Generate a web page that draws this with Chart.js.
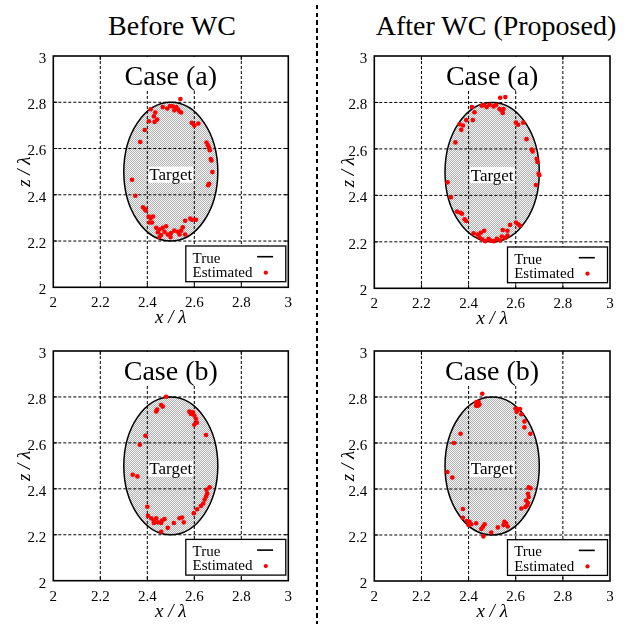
<!DOCTYPE html>
<html>
<head>
<meta charset="utf-8">
<script src="https://cdn.jsdelivr.net/npm/chart.js@4/dist/chart.umd.min.js"></script>
<style>
body { margin: 0; background: #fff; width: 629px; height: 624px; position: relative; overflow: hidden; }
canvas { position: absolute; }
.veerg { position: absolute; top: 9.5px; width: 320px; font: 28px "Liberation Serif", serif; line-height: 32px; text-align: center; color: #000; }
#eraldaja { position: absolute; left: 316px; top: 5px; width: 2px; height: 619px; z-index: 2;
  background: repeating-linear-gradient(to bottom, #000 0 4.5px, transparent 4.5px 7.7px); }
</style>
</head>
<body>
<div class="veerg" id="veerg1" style="left:12px"></div>
<div class="veerg" id="veerg2" style="left:336px"></div>
<div id="eraldaja"></div>
<canvas id="p1" width="315" height="295" style="left:0;top:40px"></canvas>
<canvas id="p2" width="314" height="295" style="left:315px;top:40px"></canvas>
<canvas id="p3" width="315" height="289" style="left:0;top:335px"></canvas>
<canvas id="p4" width="314" height="289" style="left:315px;top:335px"></canvas>
<script>
// Veergude ja paneelide pealkirjad
const veeruPealkirjad = ['Before WC', 'After WC (Proposed)'];
const juhtumid = ['Case (a)', 'Case (b)'];
const legendiSildid = ['True', 'Estimated'];
const sihtSilt = 'Target';

// Telgede jaotised (mõlemal teljel samad)
const tickVaartused = [2, 2.2, 2.4, 2.6, 2.8, 3];
const tickSildid = ['2', '2.2', '2.4', '2.6', '2.8', '3'];

// Tõeline sihtmärk: ellips (kese ja pooltelg x ja z suunas)
const ellipsiKese = [2.5, 2.5];
const ellipsiPooltelg = [0.2, 0.3];
const sildiKoht = [2.5, 2.487];

// Hinnangulised punktid: enne WC, juhtum (a)
const enneAx = [2.541, 2.497, 2.508, 2.523, 2.530, 2.537, 2.544, 2.515, 2.485, 2.466,
  2.414, 2.434, 2.428, 2.442, 2.431, 2.407, 2.389, 2.370, 2.589, 2.600,
  2.617, 2.652, 2.658, 2.662, 2.666, 2.670, 2.673, 2.677, 2.663, 2.659,
  2.335, 2.349, 2.382, 2.389, 2.393, 2.406, 2.414, 2.424, 2.410, 2.420,
  2.438, 2.452, 2.466, 2.480, 2.445, 2.459, 2.473, 2.487, 2.501, 2.515,
  2.530, 2.544, 2.551, 2.537, 2.561, 2.499, 2.452, 2.561, 2.583, 2.590, 2.607];
const enneAz = [2.814, 2.784, 2.782, 2.779, 2.770, 2.760, 2.756, 2.765, 2.773, 2.779,
  2.770, 2.756, 2.739, 2.725, 2.715, 2.718, 2.680, 2.628, 2.711, 2.699,
  2.708, 2.626, 2.614, 2.604, 2.593, 2.555, 2.548, 2.498, 2.448, 2.441,
  2.465, 2.396, 2.346, 2.339, 2.332, 2.306, 2.299, 2.306, 2.280, 2.280,
  2.257, 2.250, 2.257, 2.264, 2.238, 2.226, 2.240, 2.228, 2.235, 2.245,
  2.240, 2.245, 2.259, 2.228, 2.228, 2.217, 2.217, 2.288, 2.297, 2.292, 2.292];

// Hinnangulised punktid: pärast WC, juhtum (a)
const parastAx = [2.534, 2.556, 2.414, 2.425, 2.456, 2.466, 2.489, 2.506, 2.517, 2.531,
  2.539, 2.548, 2.545, 2.477, 2.390, 2.418, 2.362, 2.376, 2.369, 2.344,
  2.311, 2.325, 2.351, 2.365, 2.372, 2.383, 2.390, 2.601, 2.610, 2.632,
  2.646, 2.668, 2.672, 2.689, 2.692, 2.697, 2.700, 2.686, 2.576, 2.601,
  2.611, 2.618, 2.565, 2.545, 2.421, 2.438, 2.452, 2.466, 2.446, 2.458,
  2.470, 2.485, 2.494, 2.508, 2.520, 2.534, 2.541, 2.555, 2.565];
const parastAz = [2.820, 2.823, 2.780, 2.758, 2.786, 2.789, 2.790, 2.783, 2.789, 2.772,
  2.766, 2.772, 2.755, 2.780, 2.724, 2.724, 2.706, 2.701, 2.682, 2.628,
  2.456, 2.392, 2.330, 2.325, 2.321, 2.297, 2.290, 2.713, 2.704, 2.713,
  2.642, 2.597, 2.589, 2.558, 2.544, 2.494, 2.487, 2.445, 2.273, 2.283,
  2.276, 2.269, 2.248, 2.251, 2.237, 2.231, 2.239, 2.248, 2.220, 2.211,
  2.203, 2.213, 2.206, 2.203, 2.213, 2.206, 2.223, 2.217, 2.227];

// Hinnangulised punktid: enne WC, juhtum (b)
const enneBx = [2.480, 2.459, 2.466, 2.442, 2.438, 2.579, 2.586, 2.594, 2.600, 2.607,
  2.611, 2.600, 2.650, 2.392, 2.368, 2.338, 2.358, 2.665, 2.652, 2.655,
  2.650, 2.644, 2.638, 2.628, 2.612, 2.598, 2.400, 2.403, 2.417, 2.427,
  2.438, 2.445, 2.462, 2.473, 2.459, 2.428, 2.487, 2.513, 2.537, 2.548,
  2.555, 2.459];
const enneBz = [2.801, 2.765, 2.758, 2.745, 2.737, 2.736, 2.726, 2.733, 2.719, 2.705,
  2.688, 2.679, 2.634, 2.631, 2.592, 2.461, 2.454, 2.407, 2.396, 2.379,
  2.367, 2.353, 2.336, 2.325, 2.311, 2.294, 2.322, 2.282, 2.272, 2.262,
  2.272, 2.254, 2.262, 2.268, 2.251, 2.251, 2.230, 2.251, 2.272, 2.275,
  2.254, 2.213];

// Hinnangulised punktid: pärast WC, juhtum (b)
const parastBx = [2.458, 2.432, 2.442, 2.446, 2.432, 2.439, 2.599, 2.608, 2.618, 2.604,
  2.624, 2.637, 2.637, 2.662, 2.366, 2.338, 2.310, 2.331, 2.655, 2.663,
  2.652, 2.655, 2.644, 2.652, 2.641, 2.648, 2.624, 2.376, 2.376, 2.393,
  2.404, 2.400, 2.411, 2.432, 2.454, 2.461, 2.468, 2.496, 2.524, 2.552,
  2.559, 2.566, 2.548, 2.463];
const parastBz = [2.814, 2.776, 2.779, 2.767, 2.762, 2.762, 2.750, 2.743, 2.748, 2.736,
  2.725, 2.694, 2.668, 2.640, 2.640, 2.600, 2.474, 2.450, 2.407, 2.403,
  2.379, 2.365, 2.350, 2.339, 2.322, 2.328, 2.315, 2.313, 2.275, 2.261,
  2.257, 2.243, 2.247, 2.251, 2.226, 2.236, 2.247, 2.211, 2.233, 2.257,
  2.250, 2.237, 2.243, 2.194];

document.getElementById('veerg1').textContent = veeruPealkirjad[0];
document.getElementById('veerg2').textContent = veeruPealkirjad[1];

Chart.defaults.font.family = '"Liberation Serif", serif';
Chart.defaults.color = '#000';

// Paneelid: lõuend, andmed ja joonisala asukoht lõuendil
const paneelid = [
  { id: 'p1', x: enneAx, z: enneAz, pealkiri: juhtumid[0], ala: { l: 53.3, t: 13.3, r: 288.3, b: 247.3 }, yPealkiri: 25 },
  { id: 'p2', x: parastAx, z: parastAz, pealkiri: juhtumid[0], ala: { l: 59.3, t: 13.3, r: 295, b: 248.3 }, yPealkiri: 34 },
  { id: 'p3', x: enneBx, z: enneBz, pealkiri: juhtumid[1], ala: { l: 53.3, t: 11, r: 288.3, b: 245.7 }, yPealkiri: 25 },
  { id: 'p4', x: parastBx, z: parastBz, pealkiri: juhtumid[1], ala: { l: 59.3, t: 11, r: 295, b: 246 }, yPealkiri: 34 }
];

// Hall täpiline muster ellipsi täiteks
function looMuster(ctx) {
    const m = document.createElement('canvas');
    m.width = 2; m.height = 2;
    const c = m.getContext('2d');
    c.fillStyle = '#f3f3f3';
    c.fillRect(0, 0, 2, 2);
    c.fillStyle = '#b2b2b2';
    c.fillRect(0, 0, 1, 1);
    c.fillRect(1, 1, 1, 1);
    return ctx.createPattern(m, 'repeat');
}

// Ellipsi tee skaalade kaudu
function ellipsiTee(chart) {
    const { ctx, scales: { x, y } } = chart;
    const cx = x.getPixelForValue(ellipsiKese[0]);
    const cy = y.getPixelForValue(ellipsiKese[1]);
    const rx = x.getPixelForValue(ellipsiKese[0] + ellipsiPooltelg[0]) - cx;
    const ry = cy - y.getPixelForValue(ellipsiKese[1] + ellipsiPooltelg[1]);
    ctx.beginPath();
    ctx.ellipse(cx, cy, rx, ry, 0, 0, Math.PI * 2);
}

// Plugin, mis joonistab ellipsi, ruudustiku, sildid, raami ja legendi
const paneelPlugin = {
    id: 'paneel',
    beforeDatasetsDraw(chart, args, opts) {
        const { ctx, chartArea: a, scales: { x, y } } = chart;
        ctx.save();
        // Ellipsi täide
        ellipsiTee(chart);
        ctx.fillStyle = looMuster(ctx);
        ctx.fill();
        // Katkendlik ruudustik
        ctx.strokeStyle = '#000';
        ctx.lineWidth = 1;
        ctx.setLineDash([3, 2]);
        tickVaartused.slice(1, -1).forEach(v => {
            const px = x.getPixelForValue(v);
            const py = y.getPixelForValue(v);
            ctx.beginPath();
            ctx.moveTo(px, a.top); ctx.lineTo(px, a.bottom);
            ctx.moveTo(a.left, py); ctx.lineTo(a.right, py);
            ctx.stroke();
        });
        ctx.setLineDash([]);
        // Sisemised jaotise kriipsud
        tickVaartused.slice(1, -1).forEach(v => {
            const px = x.getPixelForValue(v);
            const py = y.getPixelForValue(v);
            ctx.beginPath();
            ctx.moveTo(px, a.bottom); ctx.lineTo(px, a.bottom - 4);
            ctx.moveTo(px, a.top); ctx.lineTo(px, a.top + 4);
            ctx.moveTo(a.left, py); ctx.lineTo(a.left + 4, py);
            ctx.moveTo(a.right, py); ctx.lineTo(a.right - 4, py);
            ctx.stroke();
        });
        // Ellipsi piirjoon
        ellipsiTee(chart);
        ctx.lineWidth = 1.5;
        ctx.stroke();
        // Paneeli pealkiri valgel taustal
        const kx = (a.left + a.right) / 2;
        ctx.font = '28px "Liberation Serif"';
        const pw = ctx.measureText(opts.pealkiri).width;
        ctx.fillStyle = '#fff';
        ctx.fillRect(kx - pw / 2 - 4, a.top + 1, pw + 8, 33);
        ctx.fillStyle = '#000';
        ctx.textAlign = 'center';
        ctx.textBaseline = 'alphabetic';
        ctx.fillText(opts.pealkiri, kx, a.top + 28.5);
        // Sihtmärgi silt
        const sx = x.getPixelForValue(sildiKoht[0]);
        const sy = y.getPixelForValue(sildiKoht[1]);
        ctx.font = '17px "Liberation Serif"';
        const sw = ctx.measureText(sihtSilt).width;
        ctx.fillStyle = '#fff';
        ctx.fillRect(sx - sw / 2 - 1, sy - 8, sw + 2, 16);
        ctx.fillStyle = '#000';
        ctx.textBaseline = 'middle';
        ctx.fillText(sihtSilt, sx, sy + 1);
        ctx.restore();
    },
    afterDatasetsDraw(chart) {
        const { ctx, chartArea: a } = chart;
        ctx.save();
        // Raam
        ctx.strokeStyle = '#000';
        ctx.lineWidth = 1.6;
        ctx.strokeRect(a.left, a.top, a.right - a.left, a.bottom - a.top);
        // Legend paremas alanurgas
        const lw = 100, lh = 35.7;
        const lx = a.right - 2.5 - lw;
        const ly = a.bottom - 5.6 - lh;
        ctx.fillStyle = '#fff';
        ctx.fillRect(lx, ly, lw, lh);
        ctx.lineWidth = 1.3;
        ctx.strokeRect(lx, ly, lw, lh);
        ctx.font = '15px "Liberation Serif"';
        ctx.fillStyle = '#000';
        ctx.textAlign = 'left';
        ctx.textBaseline = 'alphabetic';
        ctx.fillText(legendiSildid[0], lx + 6.7, ly + 16.7);
        ctx.fillText(legendiSildid[1], lx + 6.7, ly + 31);
        ctx.lineWidth = 1.6;
        ctx.beginPath();
        ctx.moveTo(lx + 71.3, ly + 10.7);
        ctx.lineTo(lx + 87.3, ly + 10.7);
        ctx.stroke();
        ctx.fillStyle = '#ff0000';
        ctx.beginPath();
        ctx.arc(lx + 80, ly + 26.7, 2.1, 0, Math.PI * 2);
        ctx.fill();
        ctx.restore();
    }
};

// Ühe paneeli loomine
function looPaneel(p) {
    const louend = document.getElementById(p.id);
    const xKorgus = louend.height - p.ala.b; // x-telje ala kõrgus
    const punktid = p.x.map((v, i) => ({ x: v, y: p.z[i] }));
    const telg = (pealkiri) => ({
        type: 'linear',
        min: tickVaartused[0],
        max: tickVaartused[tickVaartused.length - 1],
        afterBuildTicks: s => { s.ticks = tickVaartused.map(v => ({ value: v })); },
        grid: { display: false, drawTicks: false, tickLength: 0 },
        border: { display: false },
        ticks: { callback: (v, i) => tickSildid[i], font: { size: 15 }, color: '#000', autoSkip: false, maxRotation: 0 },
        title: { display: true, text: pealkiri, color: '#000', font: { size: 19, style: 'italic' } }
    });
    const xTelg = telg('x / λ');
    xTelg.afterFit = s => { s.height = xKorgus; };
    xTelg.ticks.padding = 7;
    xTelg.title.padding = { top: 0, bottom: xKorgus - 31 - 11.4 };
    const yTelg = telg('z / λ');
    yTelg.afterFit = s => { s.width = p.ala.l; };
    yTelg.ticks.padding = 7;
    yTelg.ticks.labelOffset = 3;
    yTelg.title.padding = { top: p.yPealkiri - 11.4, bottom: 0 };

    return new Chart(louend, {
        type: 'scatter',
        data: {
            datasets: [{
                label: legendiSildid[1],
                data: punktid,
                backgroundColor: '#ff0000',
                borderWidth: 0,
                pointRadius: 2.3,
                pointHoverRadius: 2.3
            }]
        },
        options: {
            responsive: false,
            animation: false,
            devicePixelRatio: 1,
            layout: { padding: { left: 0, top: p.ala.t, right: louend.width - p.ala.r, bottom: 0 } },
            plugins: {
                legend: { display: false },
                tooltip: { enabled: false },
                paneel: { pealkiri: p.pealkiri }
            },
            scales: { x: xTelg, y: yTelg }
        },
        plugins: [paneelPlugin]
    });
}

paneelid.forEach(looPaneel);
</script>
</body>
</html>
